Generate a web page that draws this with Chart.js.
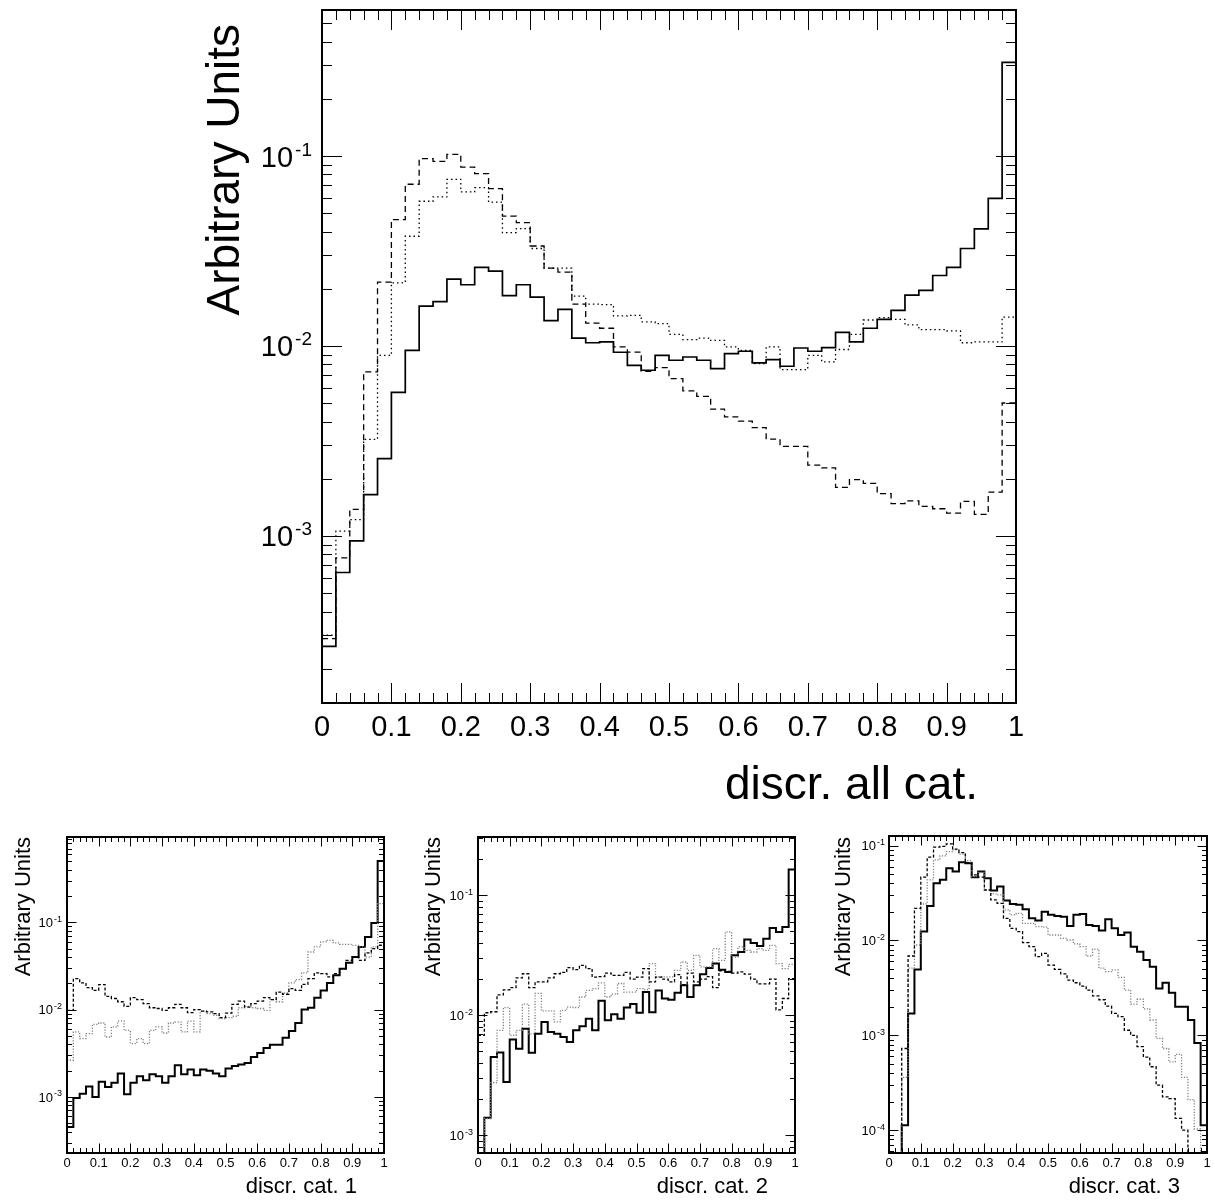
<!DOCTYPE html>
<html>
<head>
<meta charset="utf-8">
<title>Discriminant distributions</title>
<script src="https://cdn.jsdelivr.net/npm/chart.js@4/dist/chart.umd.min.js"></script>
<style>
  html, body { margin: 0; padding: 0; background: #fff; }
  #wrap { position: relative; width: 1215px; height: 1202px; overflow: hidden; }
  #wrap canvas { position: absolute; left: 0; top: 0; }
</style>
</head>
<body>
<div id="wrap">
  <canvas id="cAll" width="1215" height="1202"></canvas>
  <canvas id="cCat1" width="1215" height="1202"></canvas>
  <canvas id="cCat2" width="1215" height="1202"></canvas>
  <canvas id="cCat3" width="1215" height="1202"></canvas>
</div>
<script>
const FONT = "'Liberation Sans', Arial, Helvetica, sans-serif";

// 50 equal bins on [0, 1]
const N_BINS = 50;
const binLow = Array.from({ length: N_BINS }, (_, i) => i / N_BINS);
const xTickLabels = ['0', '0.1', '0.2', '0.3', '0.4', '0.5', '0.6', '0.7', '0.8', '0.9', '1'];

// ---- discr. all cat. ----
const allSolid = [2.62e-4, 6.42e-4, 9.41e-4, 1.65e-3, 2.55e-3, 5.70e-3, 9.49e-3, 0.0162, 0.0171, 0.0225,
  0.0210, 0.0259, 0.0248, 0.0184, 0.0210, 0.0181, 0.0136, 0.0156, 0.0110, 0.0104,
  0.0105, 9.27e-3, 7.91e-3, 7.45e-3, 8.93e-3, 8.41e-3, 8.75e-3, 8.41e-3, 7.60e-3, 9.12e-3,
  9.38e-3, 8.14e-3, 8.48e-3, 7.82e-3, 9.76e-3, 9.38e-3, 9.81e-3, 0.0118, 0.0105, 0.0124,
  0.0138, 0.0154, 0.0185, 0.0196, 0.0235, 0.0259, 0.0326, 0.0413, 0.0599, 0.311];
const allDashed = [2.88e-4, 7.66e-4, 1.38e-3, 7.30e-3, 0.0217, 0.0463, 0.0710, 0.0969, 0.0938, 0.1021,
  0.0875, 0.0808, 0.0673, 0.0482, 0.0446, 0.0336, 0.0257, 0.0245, 0.0166, 0.0132,
  0.0124, 9.88e-3, 9.29e-3, 7.36e-3, 7.69e-3, 6.73e-3, 5.80e-3, 5.43e-3, 4.65e-3, 4.23e-3,
  4.02e-3, 3.72e-3, 3.23e-3, 2.96e-3, 2.96e-3, 2.36e-3, 2.28e-3, 1.80e-3, 1.98e-3, 1.89e-3,
  1.67e-3, 1.48e-3, 1.53e-3, 1.43e-3, 1.39e-3, 1.32e-3, 1.52e-3, 1.30e-3, 1.70e-3, 5.01e-3];
const allDotted = [3.0e-4, 1.06e-3, 1.22e-3, 3.22e-3, 8.93e-3, 0.0215, 0.0378, 0.0578, 0.0609, 0.0754,
  0.0647, 0.0682, 0.0572, 0.0395, 0.0415, 0.0326, 0.0257, 0.0257, 0.0183, 0.0166,
  0.0165, 0.0144, 0.0145, 0.0134, 0.0131, 0.0115, 0.0108, 0.0110, 0.0107, 9.88e-3,
  9.49e-3, 8.07e-3, 9.90e-3, 7.51e-3, 7.51e-3, 8.93e-3, 8.24e-3, 9.58e-3, 0.0115, 0.0137,
  0.0141, 0.0138, 0.0129, 0.0122, 0.0122, 0.0120, 0.0104, 0.0105, 0.0105, 0.0142];

// ---- discr. cat. 1 ----
const cat1Solid = [4.53e-4, 9.75e-4, 1.09e-3, 1.32e-3, 1.00e-3, 1.49e-3, 1.30e-3, 1.45e-3, 1.85e-3, 1.07e-3,
  1.45e-3, 1.73e-3, 1.55e-3, 1.82e-3, 1.73e-3, 1.45e-3, 1.73e-3, 2.31e-3, 1.82e-3, 2.06e-3,
  1.77e-3, 2.06e-3, 1.99e-3, 1.85e-3, 1.73e-3, 2.11e-3, 2.26e-3, 2.35e-3, 2.45e-3, 2.87e-3,
  3.19e-3, 3.64e-3, 3.97e-3, 3.97e-3, 4.77e-3, 5.70e-3, 7.03e-3, 0.0100, 0.0105, 0.0137,
  0.0166, 0.0202, 0.0247, 0.0294, 0.0345, 0.0401, 0.0522, 0.0680, 0.0982, 0.504];
const cat1Dashed = [9.8e-3, 0.0226, 0.0202, 0.0179, 0.0166, 0.0193, 0.0142, 0.0134, 0.0123, 0.0109,
  0.0137, 0.0130, 0.0117, 0.0105, 0.0103, 9.8e-3, 0.0105, 0.0115, 0.0105, 9.25e-3,
  0.0100, 9.6e-3, 9.4e-3, 9.0e-3, 8.1e-3, 9.1e-3, 0.0115, 0.0125, 0.0107, 0.0117,
  0.0125, 0.0137, 0.0130, 0.0159, 0.0150, 0.0174, 0.0166, 0.0195, 0.0226, 0.0263,
  0.0258, 0.0237, 0.0258, 0.0294, 0.0367, 0.0401, 0.0367, 0.0446, 0.0499, 0.0546];
const cat1Dotted = [2.63e-3, 5.55e-3, 4.66e-3, 5.31e-3, 6.79e-3, 7.03e-3, 4.86e-3, 6.34e-3, 7.42e-3, 5.77e-3,
  4.08e-3, 4.66e-3, 4.08e-3, 5.79e-3, 6.34e-3, 5.40e-3, 7.03e-3, 7.20e-3, 5.55e-3, 7.40e-3,
  5.55e-3, 9.6e-3, 9.0e-3, 8.6e-3, 7.88e-3, 8.1e-3, 8.4e-3, 0.0105, 0.0109, 0.0105,
  0.0103, 9.8e-3, 0.0130, 0.0123, 0.0155, 0.0202, 0.0221, 0.0263, 0.0457, 0.0522,
  0.0596, 0.0622, 0.0580, 0.0560, 0.0560, 0.0545, 0.0522, 0.0400, 0.0522, 0.164];

// ---- discr. cat. 2 ----
const cat2Solid = [4.0e-4, 1.40e-3, 4.50e-3, 4.89e-3, 2.78e-3, 6.27e-3, 5.27e-3, 7.74e-3, 4.87e-3, 7.03e-3,
  8.80e-3, 7.26e-3, 7.03e-3, 6.59e-3, 5.99e-3, 7.50e-3, 8.10e-3, 9.38e-3, 7.50e-3, 0.0132,
  9.09e-3, 0.0102, 9.38e-3, 0.0116, 0.0124, 0.0105, 0.0156, 0.0106, 0.0161, 0.0138,
  0.0135, 0.0154, 0.0178, 0.0142, 0.0178, 0.0220, 0.0248, 0.0270, 0.0240, 0.0230,
  0.0316, 0.0337, 0.0428, 0.0401, 0.0378, 0.0435, 0.0534, 0.0495, 0.0545, 0.164];
const cat2Dashed = [6.81e-3, 0.0105, 0.0107, 0.0148, 0.0163, 0.0170, 0.0205, 0.0222, 0.0170, 0.0190,
  0.0190, 0.0205, 0.0222, 0.0228, 0.0250, 0.0240, 0.0261, 0.0245, 0.0208, 0.0210,
  0.0225, 0.0215, 0.0215, 0.0228, 0.0200, 0.0208, 0.0245, 0.0190, 0.0208, 0.0200,
  0.0190, 0.0218, 0.0180, 0.0225, 0.0190, 0.0200, 0.0210, 0.0170, 0.0235, 0.0232,
  0.0225, 0.0230, 0.0220, 0.0200, 0.0183, 0.0183, 0.0200, 0.0111, 0.0138, 0.0202];
const cat2Dotted = [5.0e-4, 1.38e-3, 2.74e-3, 7.5e-3, 0.0116, 6.8e-3, 7.5e-3, 0.0124, 7.0e-3, 0.0152,
  0.0109, 0.0109, 8.8e-3, 0.0110, 0.0117, 0.0116, 0.0142, 0.0161, 0.0167, 0.0186,
  0.0142, 0.0150, 0.0184, 0.0156, 0.0156, 0.0167, 0.0164, 0.0270, 0.0209, 0.0209,
  0.0209, 0.0237, 0.0278, 0.0237, 0.0316, 0.0253, 0.0253, 0.0359, 0.0287, 0.0495,
  0.0306, 0.0371, 0.0348, 0.0337, 0.0359, 0.0348, 0.0383, 0.0270, 0.0245, 0.0266];

// ---- discr. cat. 3 ----
const cat3Solid = [0, 0, 1.13e-4, 1.70e-3, 4.95e-3, 0.0124, 0.0231, 0.0401, 0.0435, 0.0577,
  0.0532, 0.0667, 0.0650, 0.0464, 0.0532, 0.0452, 0.0335, 0.0369, 0.0263, 0.0242,
  0.0237, 0.0213, 0.0171, 0.0162, 0.0201, 0.0186, 0.0181, 0.0178, 0.0142, 0.0186,
  0.0190, 0.0145, 0.0142, 0.0127, 0.0167, 0.0134, 0.0114, 0.0121, 8.6e-3, 7.6e-3,
  6.2e-3, 5.28e-3, 3.12e-3, 3.58e-3, 2.81e-3, 2.0e-3, 2.0e-3, 1.45e-3, 8.3e-4, 1.13e-4];
const cat3Dashed = [0, 0, 7.26e-4, 6.85e-3, 0.0218, 0.0464, 0.0753, 0.0960, 0.0980, 0.1040,
  0.0915, 0.0843, 0.0660, 0.0490, 0.0464, 0.0340, 0.0267, 0.0246, 0.0171, 0.0134,
  0.0124, 9.5e-3, 8.6e-3, 6.75e-3, 7.3e-3, 5.5e-3, 4.95e-3, 4.43e-3, 3.82e-3, 3.58e-3,
  3.3e-3, 3.0e-3, 2.6e-3, 2.37e-3, 2.03e-3, 1.70e-3, 1.57e-3, 1.13e-3, 1.0e-3, 7.6e-4,
  5.9e-4, 4.66e-4, 2.98e-4, 2.25e-4, 2.15e-4, 1.33e-4, 1.0e-4, 0, 0, 0];
const cat3Dotted = [0, 0, 3.6e-4, 5.1e-3, 8.95e-3, 0.0242, 0.0435, 0.0706, 0.0778, 0.0864,
  0.0900, 0.0810, 0.0694, 0.0470, 0.0520, 0.0340, 0.0309, 0.0302, 0.0210, 0.0186,
  0.0193, 0.0151, 0.0151, 0.0140, 0.0138, 0.0114, 0.0114, 0.0105, 0.0101, 9.2e-3,
  8.6e-3, 6.85e-3, 8.1e-3, 5.1e-3, 4.68e-3, 4.9e-3, 4.08e-3, 3.0e-3, 2.13e-3, 2.4e-3,
  1.9e-3, 1.45e-3, 9.27e-4, 7.26e-4, 5.26e-4, 6.3e-4, 3.6e-4, 2.1e-4, 1.03e-4, 0];

// Step-histogram points: one point per bin low edge plus the closing edge at x = 1.
// Empty bins sit on the lower edge of the axis.
function histPoints(vals, yMin) {
  const pts = binLow.map((x, i) => ({ x, y: vals[i] > 0 ? vals[i] : yMin }));
  const last = vals[vals.length - 1];
  pts.push({ x: 1, y: last > 0 ? last : yMin });
  return pts;
}

// Frame, inward ticks on all four sides, power-of-ten labels and axis titles.
const frameDecor = {
  id: 'frameDecor',
  afterDatasetsDraw(chart, args, o) {
    const { ctx, chartArea: a } = chart;
    const xs = chart.scales.x, ys = chart.scales.y;
    ctx.save();
    ctx.strokeStyle = '#000';
    ctx.fillStyle = '#000';

    // ticks
    ctx.lineWidth = o.tickWidth;
    ctx.setLineDash([]);
    ctx.beginPath();
    for (let k = 0; k <= N_BINS; k++) {
      const px = Math.round(xs.getPixelForValue(k / N_BINS)) + 0.5;
      const len = (k % 5 === 0) ? o.major : o.minor;
      ctx.moveTo(px, a.bottom); ctx.lineTo(px, a.bottom - len);
      ctx.moveTo(px, a.top); ctx.lineTo(px, a.top + len);
    }
    for (let e = -6; e <= 1; e++) {
      for (let m = 1; m <= 9; m++) {
        const v = m * Math.pow(10, e);
        if (v < ys.min || v > ys.max) continue;
        const py = Math.round(ys.getPixelForValue(v)) + 0.5;
        const len = (m === 1) ? o.major : o.minor;
        ctx.moveTo(a.left, py); ctx.lineTo(a.left + len, py);
        ctx.moveTo(a.right, py); ctx.lineTo(a.right - len, py);
      }
    }
    ctx.stroke();

    // frame
    ctx.lineWidth = o.frameWidth;
    ctx.strokeRect(a.left, a.top, a.right - a.left, a.bottom - a.top);

    // x tick labels
    ctx.font = `${o.tickSize}px ${FONT}`;
    ctx.textAlign = 'center';
    ctx.textBaseline = 'alphabetic';
    xTickLabels.forEach((lab) => {
      const px = xs.getPixelForValue(parseFloat(lab));
      ctx.fillText(lab, px, a.bottom + o.xLabelDrop);
    });

    // y tick labels: 10 with a raised exponent
    o.yExps.forEach((ex) => {
      const py = ys.getPixelForValue(Math.pow(10, ex));
      const sup = String(ex);
      ctx.font = `${o.tickSize}px ${FONT}`;
      const wb = ctx.measureText('10').width;
      ctx.font = `${o.supSize}px ${FONT}`;
      const ws = ctx.measureText(sup).width;
      const xr = a.left - o.yLabelGap;
      const x0 = xr - ws - o.supGap - wb;
      ctx.textAlign = 'left';
      ctx.font = `${o.tickSize}px ${FONT}`;
      ctx.fillText('10', x0, py + o.baseShift);
      ctx.font = `${o.supSize}px ${FONT}`;
      ctx.fillText(sup, x0 + wb + o.supGap, py + o.supShift);
    });

    // x title, right aligned
    ctx.font = `${o.titleSize}px ${FONT}`;
    ctx.textAlign = 'right';
    ctx.fillText(o.xTitle, a.right - o.xTitleInset, o.xTitleBaseline);

    // y title, rotated, right aligned to the top
    ctx.save();
    ctx.translate(o.yTitleX, o.yTitleTop);
    ctx.rotate(-Math.PI / 2);
    ctx.textAlign = 'right';
    ctx.fillText(o.yTitle, 0, 0);
    ctx.restore();

    ctx.restore();
  }
};

function makeHistChart(id, frame, yRange, series, deco) {
  const [yMin, yMax] = yRange;
  const datasets = series.map((s) => ({
    data: histPoints(s.values, yMin),
    borderColor: s.color,
    borderWidth: s.width,
    borderDash: s.dash,
    borderCapStyle: 'butt',
    borderJoinStyle: 'miter',
    stepped: 'before',
    pointRadius: 0,
    fill: false,
    tension: 0
  }));
  return new Chart(document.getElementById(id), {
    type: 'line',
    data: { datasets },
    plugins: [frameDecor],
    options: {
      responsive: false,
      animation: false,
      events: [],
      layout: {
        padding: {
          left: frame.left,
          top: frame.top,
          right: 1215 - frame.right,
          bottom: 1202 - frame.bottom
        }
      },
      scales: {
        x: { type: 'linear', min: 0, max: 1, display: false },
        y: { type: 'logarithmic', min: yMin, max: yMax, display: false }
      },
      plugins: {
        legend: { display: false },
        tooltip: { enabled: false },
        frameDecor: deco
      }
    }
  });
}

// Main panel
makeHistChart('cAll', { left: 322, top: 10, right: 1016, bottom: 703 }, [1.32e-4, 0.587], [
  { values: allDashed, color: '#000', width: 1.3, dash: [6, 4] },
  { values: allDotted, color: '#000', width: 1.3, dash: [1.5, 3] },
  { values: allSolid, color: '#000', width: 1.7, dash: [] }
], {
  major: 20, minor: 10, tickWidth: 1, frameWidth: 2,
  tickSize: 29, supSize: 19, supGap: 2, baseShift: 10.5, supShift: -0.5, yLabelGap: 10,
  xLabelDrop: 33, yExps: [-1, -2, -3],
  titleSize: 46, xTitle: 'discr. all cat.', xTitleInset: 38, xTitleBaseline: 799,
  yTitle: 'Arbitrary Units', yTitleX: 239, yTitleTop: 24
});

const smallDeco = {
  major: 9.5, minor: 5, tickWidth: 1, frameWidth: 2,
  tickSize: 13, supSize: 9, supGap: 1, baseShift: 4.7, supShift: -0.5, yLabelGap: 5,
  xLabelDrop: 14, titleSize: 22, xTitleInset: 27, xTitleBaseline: 1193, yTitle: 'Arbitrary Units', yTitleTop: 837
};

makeHistChart('cCat1', { left: 67, top: 837, right: 384, bottom: 1153 }, [2.28e-4, 0.948], [
  { values: cat1Dashed, color: '#000', width: 1.3, dash: [3, 2] },
  { values: cat1Dotted, color: '#808080', width: 1.3, dash: [1.2, 1.6] },
  { values: cat1Solid, color: '#000', width: 2, dash: [] }
], Object.assign({}, smallDeco, { yExps: [-1, -2, -3], xTitle: 'discr. cat. 1', yTitleX: 30 }));

makeHistChart('cCat2', { left: 478, top: 837, right: 795, bottom: 1153 }, [7.12e-4, 0.306], [
  { values: cat2Dashed, color: '#000', width: 1.3, dash: [3, 2] },
  { values: cat2Dotted, color: '#808080', width: 1.3, dash: [1.2, 1.6] },
  { values: cat2Solid, color: '#000', width: 2, dash: [] }
], Object.assign({}, smallDeco, { yExps: [-1, -2, -3], xTitle: 'discr. cat. 2', yTitleX: 440 }));

makeHistChart('cCat3', { left: 889, top: 836, right: 1207, bottom: 1153 }, [5.75e-5, 0.126], [
  { values: cat3Dashed, color: '#000', width: 1.3, dash: [3, 2] },
  { values: cat3Dotted, color: '#808080', width: 1.3, dash: [1.2, 1.6] },
  { values: cat3Solid, color: '#000', width: 2, dash: [] }
], Object.assign({}, smallDeco, { yExps: [-1, -2, -3, -4], xTitle: 'discr. cat. 3', yTitleX: 850, yLabelGap: 4 }));
</script>
</body>
</html>
